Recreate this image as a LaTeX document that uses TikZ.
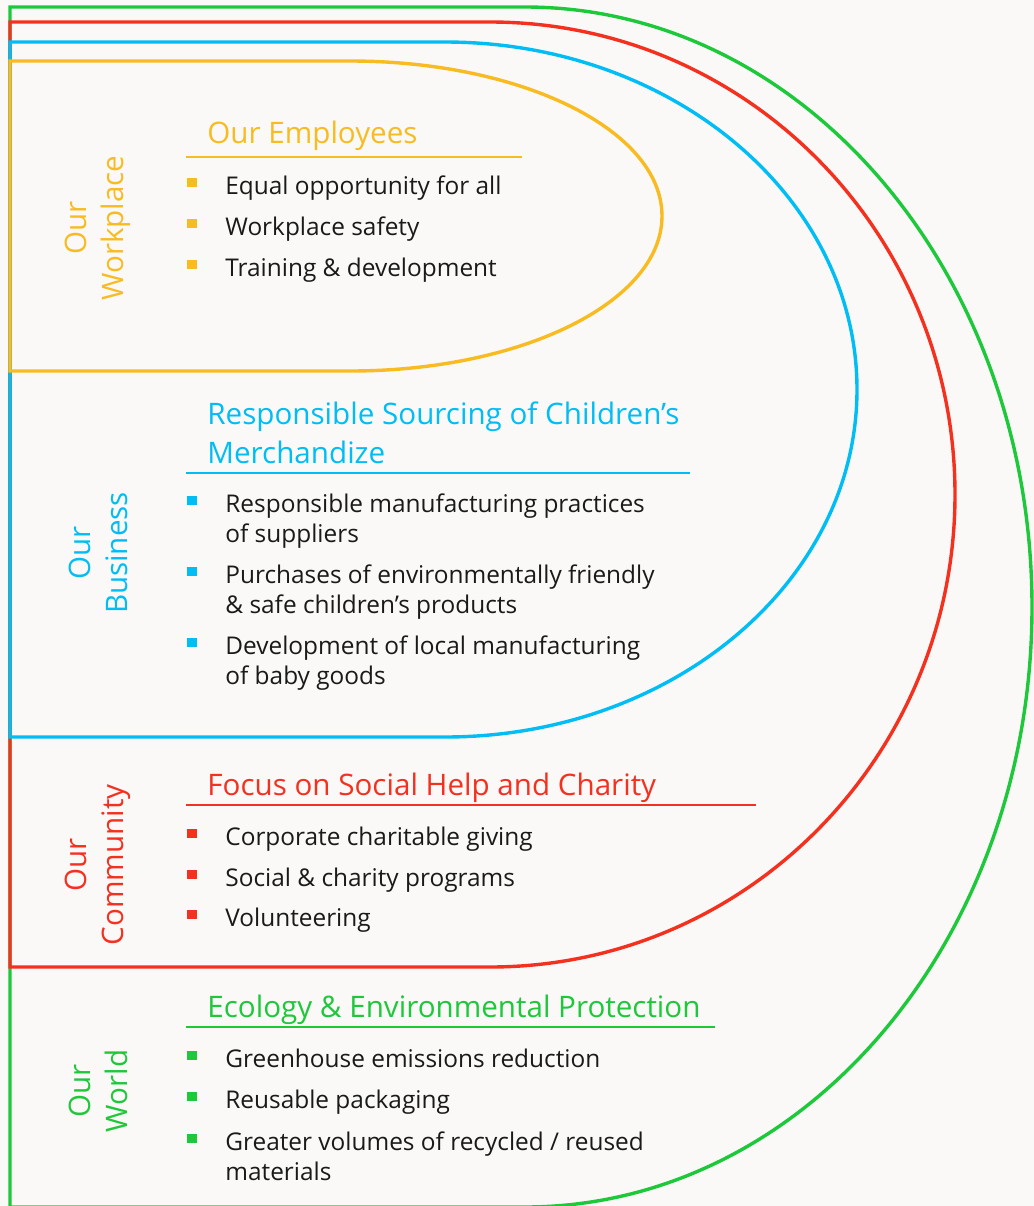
\documentclass[tikz,border=0pt]{standalone}
\usepackage{fontspec}
\setmainfont{Open Sans}
\usepackage{xcolor}
\definecolor{workyellow}{HTML}{F8BC22}
\definecolor{bizblue}{HTML}{00BEF5}
\definecolor{commred}{HTML}{F4301F}
\definecolor{worldgreen}{HTML}{1EC83B}
\definecolor{paper}{HTML}{FAF9F7}
\definecolor{inkblack}{HTML}{1A1A1A}
\usetikzlibrary{positioning}

\tikzset{
  band/.style={line width=1.7pt, line join=miter},
  rulebar/.style={line width=0.8pt},
  heading/.style={anchor=base west, inner sep=0pt, align=left, font=\fontsize{14.8}{19.5}\selectfont},
  item/.style={anchor=base west, inner sep=0pt, align=left, text=inkblack, font=\fontsize{12.2}{15}\selectfont},
  sidelabel/.style={rotate=90, align=center, inner sep=0pt, font=\fontsize{14.8}{18.5}\selectfont},
  bulletsq/.style={rectangle, minimum size=4.6pt, inner sep=0pt},
}

\begin{document}
\begin{tikzpicture}[x=0.5pt, y=-0.5pt]
    \useasboundingbox[fill=paper] (0,0) rectangle (1034,1206);

    % Nested bands, outermost first
    \draw[band, worldgreen] (10,7) -- (525,7) arc[start angle=-90, end angle=90, x radius=507, y radius=600] -- (10,1207) -- cycle;
    \draw[band, commred] (10,22) -- (490,22) arc[start angle=-90, end angle=90, x radius=465, y radius=472.5] -- (10,967) -- cycle;
    \draw[band, bizblue] (10,42) -- (445,42) arc[start angle=-90, end angle=90, x radius=412, y radius=347.5] -- (10,737) -- cycle;
    \draw[band, workyellow] (10,61) -- (350,61) arc[start angle=-90, end angle=90, x radius=312, y radius=155] -- (10,371) -- cycle;

    % Side labels
    \node[sidelabel, text=workyellow] (workplace) at (98,228) {Our\\Workplace};
    \node[sidelabel, text=bizblue] (business) at (98,553) {Our\\Business};
    \node[sidelabel, text=commred] (community) at (98,865) {Our\\Community};
    \node[sidelabel, text=worldgreen] (world) at (98,1091) {Our\\World};

    % Our Employees
    \node[heading, text=workyellow] (emp-title) at (207,143) {Our Employees};
    \draw[rulebar, workyellow] (186,157) -- (522,157);
    \foreach \y/\k/\t [count=\i] in {194/0/{Equal opportunity for all}, 235/0/{Workplace safety}, 276/0/{Training \& development}} {
        \node[bulletsq, fill=workyellow] (emp-b\i) at (192,{\y-11.5}) {};
        \node[item] (emp-\i) at (225,{\y+30*\k}) {\t};
    }

    % Responsible sourcing
    \node[heading, text=bizblue] (biz-title) at (207,463) {Responsible Sourcing of Children’s\\Merchandize};
    \draw[rulebar, bizblue] (186,473) -- (690,473);
    \foreach \y/\k/\t [count=\i] in {512/1/{Responsible manufacturing practices\\of suppliers}, 583/1/{Purchases of environmentally friendly\\\& safe children’s products}, 654/1/{Development of local manufacturing\\of baby goods}} {
        \node[bulletsq, fill=bizblue] (biz-b\i) at (192,{\y-11.5}) {};
        \node[item] (biz-\i) at (225,{\y+30*\k}) {\t};
    }

    % Social help and charity
    \node[heading, text=commred] (comm-title) at (207,795) {Focus on Social Help and Charity};
    \draw[rulebar, commred] (186,805) -- (756,805);
    \foreach \y/\k/\t [count=\i] in {845/0/{Corporate charitable giving}, 886/0/{Social \& charity programs}, 926/0/{Volunteering}} {
        \node[bulletsq, fill=commred] (comm-b\i) at (192,{\y-11.5}) {};
        \node[item] (comm-\i) at (225,{\y+30*\k}) {\t};
    }

    % Ecology
    \node[heading, text=worldgreen] (world-title) at (207,1017) {Ecology \& Environmental Protection};
    \draw[rulebar, worldgreen] (186,1027) -- (715,1027);
    \foreach \y/\k/\t [count=\i] in {1067/0/{Greenhouse emissions reduction}, 1108/0/{Reusable packaging}, 1150/1/{Greater volumes of recycled / reused\\materials}} {
        \node[bulletsq, fill=worldgreen] (world-b\i) at (192,{\y-11.5}) {};
        \node[item] (world-\i) at (225,{\y+30*\k}) {\t};
    }
\end{tikzpicture}
\end{document}
